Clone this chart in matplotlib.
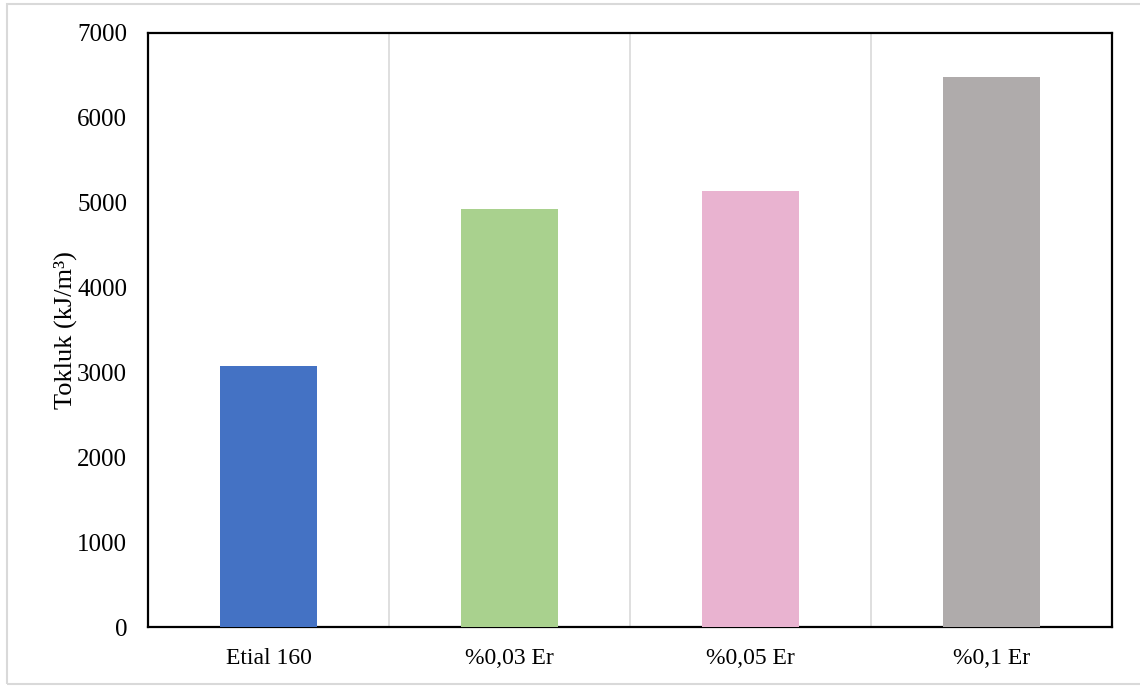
import matplotlib.pyplot as plt
from matplotlib.patches import Rectangle

plt.rcParams['font.family'] = ['Liberation Serif', 'DejaVu Serif']

categories = ['Etial 160', '%0,03 Er', '%0,05 Er', '%0,1 Er']
tokluk = [3075, 4925, 5135, 6480]
colors = ['#4472c4', '#a9d18e', '#e9b3d0', '#afabab']

fig = plt.figure(figsize=(11.4, 6.87), dpi=100)
ax = fig.add_axes([0.1298, 0.0873, 0.8456, 0.8647])

# light outer frame around the chart area
fig.patches.append(Rectangle((7 / 1140, 3 / 687), 1.01, 680 / 687, transform=fig.transFigure,
                             fill=False, edgecolor='#d9d9d9', linewidth=1.5))

x = range(len(categories))
ax.bar(x, tokluk, width=0.4, color=colors, zorder=3)

# separators between categories
for i in range(1, len(categories)):
    ax.axvline(i - 0.5, color='#d9d9d9', linewidth=1.2, zorder=1)

ax.set_xlim(-0.5, len(categories) - 0.5)
ax.set_ylim(0, 7000)
ax.set_yticks(range(0, 7001, 1000))
ax.set_xticks(list(x))
ax.set_xticklabels(categories)
ax.tick_params(axis='x', length=0, labelsize=17, pad=15)
ax.tick_params(axis='y', length=0, labelsize=18, pad=15)
for s in ax.spines.values():
    s.set_linewidth(1.6)
    s.set_color('black')

ax.set_ylabel('Tokluk (kJ/m³)', fontsize=19, labelpad=0)

fig.savefig('out.png', dpi=100)
